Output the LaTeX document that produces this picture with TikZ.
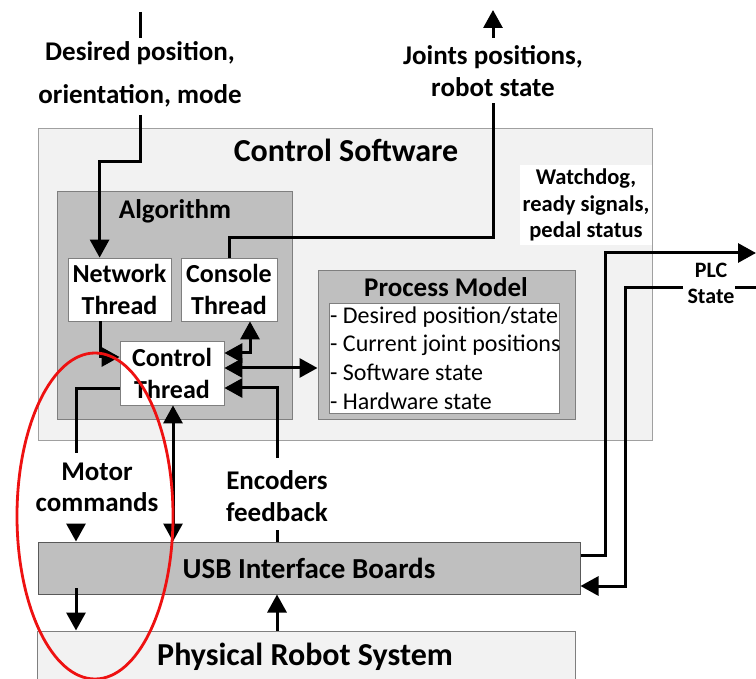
\documentclass[tikz,border=0pt]{standalone}
\usepackage{fontspec}
\setmainfont{Carlito}
\usetikzlibrary{arrows.meta}
\definecolor{csfill}{HTML}{F2F2F2}
\definecolor{csdraw}{HTML}{A0A0A0}
\definecolor{midfill}{HTML}{BFBFBF}
\definecolor{middraw}{HTML}{7F7F7F}
\definecolor{usbdraw}{HTML}{595959}
\definecolor{ellred}{HTML}{EE1111}
\begin{document}
\begin{tikzpicture}[x=1pt,y=-1pt,
  lbl/.style={font=\fontsize{27}{31.5}\selectfont\bfseries, align=center, inner sep=0pt},
  smalllbl/.style={font=\fontsize{22.5}{26.5}\selectfont\bfseries, align=center, inner sep=0pt},
  box/.style={draw, rectangle, inner sep=0pt, anchor=center},
  thread/.style={box, fill=white, draw=middraw, line width=0.8pt, align=center,
     font=\fontsize{26}{32}\selectfont\bfseries},
  tip/.tip={Triangle[length=18pt,width=19pt]},
  arr/.style={line width=3pt, -tip},
  darr/.style={line width=3pt, tip-tip},
  ln/.style={line width=3pt}
]
\fill[white] (0,0) rectangle (756,679);
\clip (0,0) rectangle (756,679);

% boxes
\node[box, fill=csfill, draw=csdraw, line width=1pt, minimum width=614pt, minimum height=311pt] (cs) at (345,284.5) {};
\node[font=\fontsize{32}{36}\selectfont\bfseries, inner sep=0pt] (cstitle) at (346,150) {Control Software};
\node[box, fill=midfill, draw=middraw, line width=1pt, minimum width=235pt, minimum height=228pt] (alg) at (174.5,306) {};
\node[lbl] (algtitle) at (175,211) {Algorithm};
\node[thread, minimum width=103pt, minimum height=63pt] (net) at (119.5,289.5) {Network\\Thread};
\node[thread, minimum width=96pt, minimum height=63pt] (con) at (229,289.5) {Console\\Thread};
\node[thread, minimum width=104pt, minimum height=64pt] (ctl) at (172,373) {Control\\Thread};

\node[box, fill=midfill, draw=middraw, line width=1pt, minimum width=257pt, minimum height=149pt] (pm) at (446.5,345.5) {};
\node[lbl] (pmtitle) at (446,287) {Process Model};
\node[box, fill=white, draw=middraw, line width=0.8pt, minimum width=230pt, minimum height=110pt] (pmi) at (444,358) {};
\node[anchor=west, align=left, inner sep=0pt, font=\fontsize{24}{28.6}\selectfont] (pmlist) at (330,358)
  {- Desired position/state\\- Current joint positions\\- Software state\\- Hardware state};

\node[fill=white, inner sep=0pt, minimum width=132pt, minimum height=80pt, smalllbl] (wd) at (586,205)
  {Watchdog,\\ready signals,\\pedal status};

\node[box, fill=midfill, draw=usbdraw, line width=1pt, minimum width=542pt, minimum height=52pt,
  font=\fontsize{29}{32}\selectfont\bfseries] (usb) at (309,568) {USB Interface Boards};
\node[box, fill=csfill, draw=middraw, line width=1pt, minimum width=538pt, minimum height=58pt] (phys) at (306,660) {};
\node[font=\fontsize{32}{36}\selectfont\bfseries, inner sep=0pt] (phystitle) at (305,657) {Physical Robot System};

% external labels
\node[lbl] (desired) at (140,74.5) {Desired position,\\[11pt]orientation, mode};
\node[lbl] (joints) at (493,71) {Joints positions,\\robot state};
\node[lbl] (motor) at (97,487.5) {Motor\\commands};
\node[lbl] (enc) at (277,496) {Encoders\\feedback};
\node[font=\fontsize{22}{26}\selectfont\bfseries, align=center, inner sep=0pt] (plc) at (711,283) {PLC\\State};

% coordinates for free ends
\coordinate (inTop) at (140,12);
\coordinate (inBot) at (140,38);
\coordinate (d1) at (140,115);
\coordinate (outTop) at (493,10);
\coordinate (outBot) at (493,38);
\coordinate (j1) at (493,103);
\coordinate (e1) at (277,530);
\coordinate (e2) at (277,458);
\coordinate (m1) at (76,453);
\coordinate (m2) at (76,527);
\coordinate (p1) at (76,588);
\coordinate (plcOut) at (756,253);
\coordinate (plcInA) at (756,288);
\coordinate (plcInB) at (735,288);
\coordinate (plcInC) at (683,288);

% connectors
\draw[ln] (inTop) -- (inBot);
\draw[arr] (d1) -- (140,162) -| ([xshift=32pt]net.north west);
\draw[arr] (outBot) -- (outTop);
\draw[ln] (con.north) |- (493,238) -- (j1);
\draw[arr] ([xshift=-19.5pt]net.south) |- ([yshift=16pt]ctl.west);
\draw[darr] ([yshift=20pt]ctl.east) -| ([xshift=21pt]con.south);
\draw[darr] ([yshift=5pt]ctl.east) -- ([yshift=5pt]ctl.east -| pm.west);
\draw[ln] (usb.north -| e1) -- (e1);
\draw[arr] (e2) |- ([yshift=-15pt]ctl.east);
\draw[darr] (ctl.south -| 173,0) -- (usb.north -| 173,0);
\draw[ln] ([yshift=-16pt]ctl.west) -| (m1);
\draw[arr] (m2) -- (usb.north -| m2);
\draw[arr] (p1) -- (phys.north -| p1);
\draw[arr] (phys.north -| e1) -- (usb.south -| e1);
\draw[arr] ([yshift=13pt]usb.east) -| (605,253) -- (plcOut);
\draw[ln] (plcInA) -- (plcInB);
\draw[arr] (plcInC) -- (625,288) -- (625,586) -- ([yshift=-18pt]usb.east);

% red ellipse
\draw[ellred, line width=2.8pt] (95,516) ellipse [x radius=78pt, y radius=163pt];
\end{tikzpicture}
\end{document}
